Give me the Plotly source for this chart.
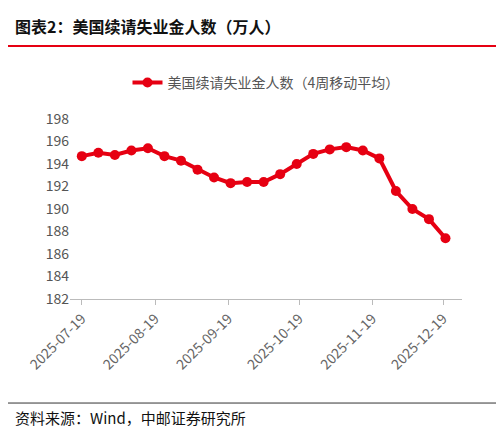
import plotly.graph_objects as go
import pandas as pd

dates = pd.date_range("2025-07-19", periods=23, freq="7D")
values = [194.7, 195.0, 194.8, 195.2, 195.4, 194.7, 194.3, 193.5, 192.8, 192.3, 192.4, 192.4,
          193.1, 194.0, 194.9, 195.3, 195.5, 195.2, 194.5, 191.6, 190.0, 189.1, 187.4]
tick_vals = ["2025-07-19", "2025-08-19", "2025-09-19", "2025-10-19", "2025-11-19", "2025-12-19"]
series_name = "美国续请失业金人数（4周移动平均）"

red = "#E60012"
fig = go.Figure(go.Scatter(x=dates, y=values, mode="lines+markers", name=series_name,
                           line=dict(color=red, width=4), marker=dict(size=10, color=red)))
font = "Noto Sans CJK SC"
fig.update_layout(
    width=504, height=426, plot_bgcolor="white", paper_bgcolor="white",
    margin=dict(l=62, r=50, t=111, b=135, autoexpand=False),
    font=dict(family=font, size=14, color="#666"),
    showlegend=True,
    legend=dict(orientation="h", x=0.5, xanchor="center", yref="container", y=0.824, yanchor="middle",
                font=dict(size=14, color="#555")),
    xaxis=dict(tickvals=tick_vals, ticktext=tick_vals, tickangle=-45, range=["2025-07-14", "2025-12-27"],
               showgrid=False, showline=True, linecolor="#bbb", ticks="outside", tickcolor="#bbb",
               tickfont=dict(size=14, color="#666")),
    yaxis=dict(range=[182, 198], dtick=2, showgrid=False, zeroline=False,
               tickfont=dict(size=14, color="#555")),
    shapes=[dict(type="line", xref="paper", yref="paper", x0=-0.16, x1=1.14, y0=1.406, y1=1.406,
                 line=dict(color=red, width=2)),
            dict(type="line", xref="paper", yref="paper", x0=-0.16, x1=1.14, y0=-0.578, y1=-0.578,
                 line=dict(color="#333", width=1))],
    annotations=[dict(text="<b>图表2：美国续请失业金人数（万人）</b>", xref="paper", yref="paper",
                      x=-0.145, y=1.517, xanchor="left", yanchor="middle", showarrow=False,
                      font=dict(size=16, color="#111")),
                 dict(text="资料来源：Wind，中邮证券研究所", xref="paper", yref="paper",
                      x=-0.145, y=-0.661, xanchor="left", yanchor="middle", showarrow=False,
                      font=dict(size=15, color="#111"))],
)
fig.write_html("out.html")
